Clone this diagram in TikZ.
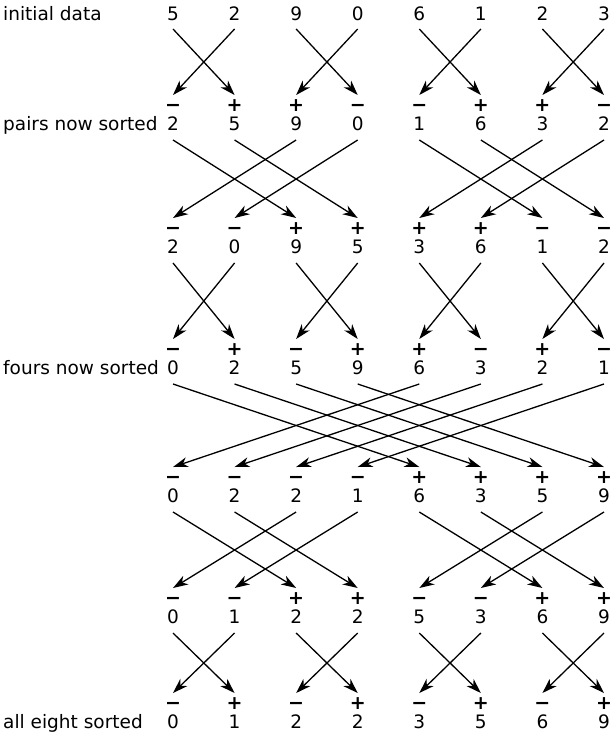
\documentclass[tikz,border=0pt]{standalone}
\usepackage{fontspec}
\setmainfont{DejaVu Sans}
\usetikzlibrary{arrows.meta}
\begin{document}
\begin{tikzpicture}[x=1pt,y=-1pt,
  num/.style={font=\fontsize{18.5}{18}\selectfont, inner sep=0pt, anchor=base},
  sgn/.style={font=\fontsize{19}{18}\selectfont\bfseries, inner sep=0pt, anchor=center},
  lab/.style={font=\fontsize{18.5}{18}\selectfont, inner sep=0pt, anchor=base west},
  arr/.style={line width=1.3pt, -{Stealth[length=15pt,width=10pt,inset=4.5pt]}}]
\useasboundingbox (0,0) rectangle (611,735);
% row labels
\node[lab] (l0) at (3,20.5) {initial data};
\node[lab] (l1) at (3,130.5) {pairs now sorted};
\node[lab] (l3) at (3,374.5) {fours now sorted};
\node[lab] (l6) at (3,728.5) {all eight sorted};
% numbers
\foreach \r/\y/\vals in {0/14/{5,2,9,0,6,1,2,3},1/124/{2,5,9,0,1,6,3,2},2/247/{2,0,9,5,3,6,1,2},3/368/{0,2,5,9,6,3,2,1},4/496/{0,2,2,1,6,3,5,9},5/617/{0,1,2,2,5,3,6,9},6/722/{0,1,2,2,3,5,6,9}}{
  \foreach \v [count=\i from 0] in \vals {
    \pgfmathsetmacro{\cx}{173+61.57*\i}
    \node[num] (n\r-\i) at (\cx,\y+6.5) {\v};
  }
}
% signs
\foreach \r/\y/\vals in {1/106/{−,+,+,−,−,+,+,−},2/229/{−,−,+,+,+,+,−,−},3/350/{−,+,−,+,+,−,+,−},4/478/{−,−,−,−,+,+,+,+},5/599/{−,−,+,+,−,−,+,+},6/704/{−,+,−,+,−,+,−,+}}{
  \foreach \v [count=\i from 0] in \vals {
    \pgfmathsetmacro{\cx}{173+61.57*\i}
    \node[sgn] (s\r-\i) at (\cx,\y) {\vphantom{+}\v};
  }
}
% arrows
\foreach \k/\d/\ya/\yb in {1/1/29/95,2/2/140/218,3/1/263/339,4/4/384/467,5/2/512/588,6/1/633/693}{
  \foreach \i in {0,...,7}{
    \pgfmathtruncatemacro{\j}{mod(floor(\i/\d),2)==0 ? \i+\d : \i-\d}
    \pgfmathsetmacro{\xa}{173+61.57*\i}
    \pgfmathsetmacro{\xb}{173+61.57*\j}
    \coordinate (a\k-\i) at (\xa,\ya);
    \coordinate (b\k-\j) at (\xb,\yb);
    \draw[arr] (a\k-\i) -- (b\k-\j);
  }
}
\end{tikzpicture}
\end{document}
